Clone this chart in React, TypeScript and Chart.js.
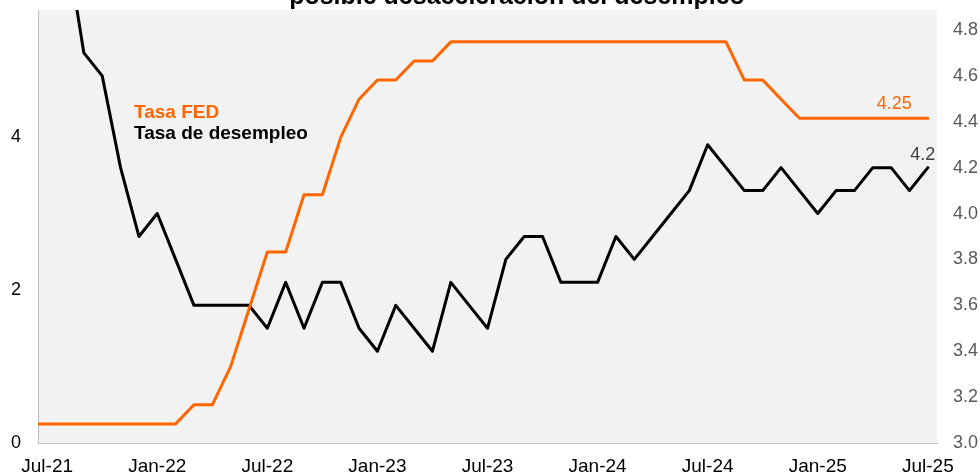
import React, { useEffect, useRef } from 'react';
import { Chart, registerables } from 'chart.js';

Chart.register(...registerables);

// Monthly categories (Jun-21 .. Jul-25)
const months = [
  'Jun-21', 'Jul-21', 'Aug-21', 'Sep-21', 'Oct-21', 'Nov-21', 'Dec-21',
  'Jan-22', 'Feb-22', 'Mar-22', 'Apr-22', 'May-22', 'Jun-22', 'Jul-22', 'Aug-22', 'Sep-22', 'Oct-22', 'Nov-22', 'Dec-22',
  'Jan-23', 'Feb-23', 'Mar-23', 'Apr-23', 'May-23', 'Jun-23', 'Jul-23', 'Aug-23', 'Sep-23', 'Oct-23', 'Nov-23', 'Dec-23',
  'Jan-24', 'Feb-24', 'Mar-24', 'Apr-24', 'May-24', 'Jun-24', 'Jul-24', 'Aug-24', 'Sep-24', 'Oct-24', 'Nov-24', 'Dec-24',
  'Jan-25', 'Feb-25', 'Mar-25', 'Apr-25', 'May-25', 'Jun-25', 'Jul-25',
];

// Tasa FED (left axis)
const fedRate = [
  0.25,
  0.25, 0.25, 0.25, 0.25, 0.25, 0.25,
  0.25, 0.25, 0.5, 0.5, 1.0, 1.75, 2.5, 2.5, 3.25, 3.25, 4.0, 4.5,
  4.75, 4.75, 5.0, 5.0, 5.25, 5.25, 5.25, 5.25, 5.25, 5.25, 5.25, 5.25,
  5.25, 5.25, 5.25, 5.25, 5.25, 5.25, 5.25, 5.25, 4.75, 4.75, 4.5, 4.25,
  4.25, 4.25, 4.25, 4.25, 4.25, 4.25, 4.25,
];

// Tasa de desempleo (right axis)
const unemployment: (number | null)[] = [
  null,
  5.4, 5.2, 4.7, 4.6, 4.2, 3.9,
  4.0, 3.8, 3.6, 3.6, 3.6, 3.6, 3.5, 3.7, 3.5, 3.7, 3.7, 3.5,
  3.4, 3.6, 3.5, 3.4, 3.7, 3.6, 3.5, 3.8, 3.9, 3.9, 3.7, 3.7,
  3.7, 3.9, 3.8, 3.9, 4.0, 4.1, 4.3, 4.2, 4.1, 4.1, 4.2, 4.1,
  4.0, 4.1, 4.1, 4.2, 4.2, 4.1, 4.2,
];

const seriesNames = ['Tasa FED', 'Tasa de desempleo'];
const titleText = 'posible desaceleración del desempleo';

const ORANGE = '#FF6600';
const FONT = '"Liberation Sans", Arial, sans-serif';

const decorations = {
  id: 'decorations',
  beforeDraw(chart: any) {
    const { ctx, chartArea: a } = chart;
    ctx.save();
    ctx.fillStyle = '#F2F2F2';
    ctx.fillRect(a.left, a.top, a.right - a.left, a.bottom - a.top);
    ctx.restore();
  },
  afterDraw(chart: any) {
    const { ctx, chartArea: a } = chart;
    ctx.save();
    ctx.textBaseline = 'alphabetic';
    // title (cut at top)
    ctx.font = `bold 25px ${FONT}`;
    ctx.fillStyle = '#000';
    ctx.textAlign = 'center';
    ctx.fillText(titleText, 517, 4);
    // in-plot legend
    ctx.font = `bold 19px ${FONT}`;
    ctx.textAlign = 'left';
    ctx.fillStyle = ORANGE;
    ctx.fillText(seriesNames[0], a.left + 96, a.top + 108);
    ctx.fillStyle = '#000';
    ctx.fillText(seriesNames[1], a.left + 96, a.top + 129);
    // end labels
    ctx.font = `18px ${FONT}`;
    const m0 = chart.getDatasetMeta(0);
    const p0 = m0.data[m0.data.length - 1];
    ctx.fillStyle = ORANGE;
    ctx.textAlign = 'right';
    ctx.fillText(fedRate[fedRate.length - 1].toFixed(2), p0.x - 16, p0.y - 9);
    const m1 = chart.getDatasetMeta(1);
    const p1 = m1.data[m1.data.length - 1];
    ctx.fillStyle = '#404040';
    ctx.textAlign = 'center';
    ctx.fillText((unemployment[unemployment.length - 1] as number).toFixed(1), p1.x - 5, p1.y - 8);
    ctx.restore();
  },
};

const noPad = (s: any) => {
  s.paddingTop = 0;
  s.paddingBottom = 0;
  s.paddingLeft = 0;
  s.paddingRight = 0;
};

export default function App() {
  const ref = useRef<HTMLCanvasElement>(null);

  useEffect(() => {
    const chart = new Chart(ref.current as HTMLCanvasElement, {
      type: 'line',
      data: {
        datasets: [
          {
            label: seriesNames[0],
            data: fedRate.map((v, i) => ({ x: i - 1, y: v })),
            yAxisID: 'y',
            borderColor: ORANGE,
            borderWidth: 3,
            pointRadius: 0,
            tension: 0,
            borderJoinStyle: 'round',
            borderCapStyle: 'round',
            clip: 0,
          },
          {
            label: seriesNames[1],
            data: unemployment.map((v, i) => ({ x: i - 1, y: v })),
            yAxisID: 'y1',
            borderColor: '#000000',
            borderWidth: 3,
            pointRadius: 0,
            tension: 0,
            borderJoinStyle: 'round',
            borderCapStyle: 'round',
            clip: 0,
          },
        ] as any,
      },
      options: {
        animation: false,
        responsive: false,
        events: [],
        layout: { padding: { top: 10, left: 0, right: 0, bottom: 0 } },
        plugins: {
          legend: { display: false },
          tooltip: { enabled: false },
          title: { display: false },
        },
        scales: {
          x: {
            type: 'linear',
            min: -0.5,
            max: 48.5,
            grid: { display: false, drawTicks: false },
            border: { display: true, color: '#BFBFBF', width: 1 },
            ticks: {
              stepSize: 6,
              includeBounds: false,
              autoSkip: false,
              maxRotation: 0,
              padding: 12,
              color: '#000',
              font: { family: FONT, size: 19 },
              callback: (v: any) => months[Number(v) + 1] ?? '',
            },
            afterFit: (s: any) => { s.height = 30; noPad(s); },
          },
          y: {
            position: 'left',
            min: 0,
            max: 5.667,
            grid: { display: false, drawTicks: false },
            border: { display: true, color: '#BFBFBF', width: 1 },
            ticks: {
              stepSize: 2,
              includeBounds: false,
              padding: 17,
              color: '#000',
              font: { family: FONT, size: 18 },
              callback: (v: any) => String(v),
            },
            afterFit: (s: any) => { s.width = 38; noPad(s); },
          },
          y1: {
            position: 'right',
            min: 3.0,
            max: 4.887,
            grid: { display: false, drawTicks: false },
            border: { display: false },
            ticks: {
              stepSize: 0.2,
              includeBounds: false,
              padding: 16,
              color: '#595959',
              font: { family: FONT, size: 18 },
              callback: (v: any) => Number(v).toFixed(1),
            },
            afterFit: (s: any) => { s.width = 43; noPad(s); },
          },
        },
      } as any,
      plugins: [decorations],
    });
    return () => chart.destroy();
  }, []);

  return (
    <div style={{ position: 'absolute', left: 0, top: 0, width: 980, height: 473, background: '#fff' }}>
      <canvas ref={ref} width={980} height={473} style={{ display: 'block' }} />
    </div>
  );
}
